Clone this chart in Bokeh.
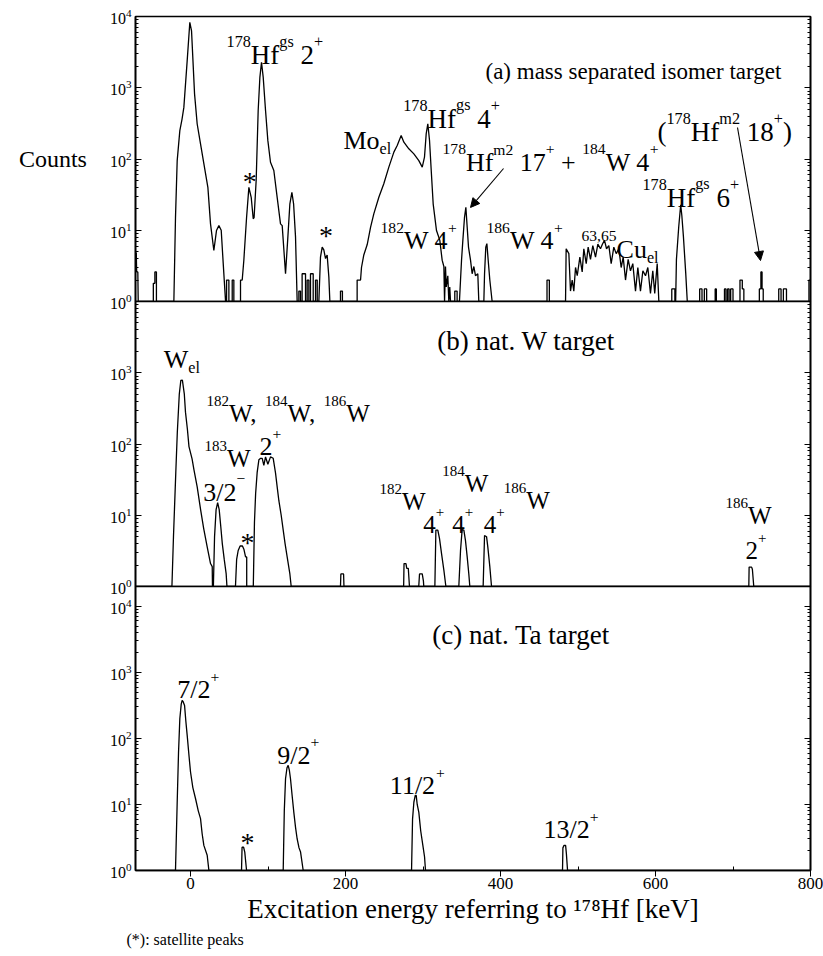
import re
from bokeh.plotting import figure
from bokeh.layouts import column
from bokeh.models import FixedTicker, LogAxis, Arrow, NormalHead, Title, ColumnDataSource, Range1d
from bokeh.core.properties import value
from bokeh.embed import file_html
from bokeh.resources import INLINE

FONT = "Liberation Serif"

# ---------------- data: panel (a) mass separated isomer target ----------------
a_energy = [
    -71, -70, -69.5, -68, -67.5,
    -48, -48, -46, -46, -44, -44,
    -21.5, -19.4, -17.2, -13.8, -11, -8.6, -4.3, -0.9, 1.3, 5.2, 8.6, 12.9, 17.2, 22.4, 25.8, 30.1, 33.5, 36.6, 39.6, 42.2, 45.2,
    46.5, 46.5, 49.5, 49.5, 53.8, 53.8, 55.9, 55.9,
    64.5, 64.5, 66.7, 68.8, 72.3, 75.3, 78.3, 80.9, 82, 84.7, 87.3, 89.5, 91.6, 93.8, 96.8, 99.8, 103.2, 107.5, 111.8, 116.1, 118.3, 122.6, 125.6, 128.2, 130.8, 133, 135.5, 137.6,
    139.8, 139.8, 141.9, 141.9, 144, 144, 148.4, 148.4, 150.5, 150.5, 152.7, 152.7, 154.8, 154.8, 158.3, 158.3, 161.3, 161.3, 163.5, 163.5,
    165.6, 167.7, 169.9, 172, 174.2, 176.3, 178.5, 179.8,
    193.5, 193.5, 196, 196,
    215, 215, 219.4, 220.6, 223.6, 228, 232.3, 236.5, 243, 249.4, 255.9, 262.4, 266.7, 271.8, 275.3, 281.7, 288.2, 294.6, 299, 301.9, 304.1, 306.2, 308.4, 310.6, 313.1, 317.4, 321.7, 324.7, 326.9, 327.8, 329, 330, 332, 333.3, 334.5, 335.5,
    341, 341, 344, 344,
    347, 348.4, 349.7, 351.4, 353.5, 355.3, 357, 358.7, 361.3, 363.4, 365.6, 367.7, 370.7, 372,
    378.5, 379.4, 381, 382.4, 384.1, 386.2, 389.2,
    460, 460, 463, 463,
    483.9, 484.7, 488.2, 490.3, 492.5, 494.6, 496.8, 499, 502.4, 505.4, 507.5, 510.6, 513.1, 516.1, 519.1, 522.6, 525.6, 529, 531.6, 534.2,
    536.8, 539.8, 542.8, 546.2, 549.3, 552.7, 555.7, 558.3, 561.3, 564.7, 567.7, 570.7, 574.2, 577.2, 580.6, 583.7, 587.1, 590.1, 593.5, 596.5,
    599, 602.2, 604.3,
    621, 621, 625, 625,
    626, 627, 630, 632.5, 634, 636, 639, 641,
    657, 657, 660, 660, 663, 663, 666, 666, 677, 677, 678.5, 678.5, 689, 689, 691, 691, 693, 693, 695, 695, 697, 697, 700, 700, 709, 709, 712, 712, 714, 714,
    734, 734, 736, 736, 737.5, 737.5, 739, 739,
    759, 759, 762, 762, 765, 765, 769, 769,
    798, 798, 800,
]
a_counts = [
    4.8, 4.8, 2.6, 2.6, 1,
    1, 1.8, 1.8, 2.6, 2.6, 1,
    1, 15, 95, 250, 360, 530, 2400, 8300, 6300, 820, 310, 163, 86, 40, 12.3, 5.2, 9.9, 11.6, 10, 3.4, 1,
    1, 2, 2, 1, 1, 2, 2, 1,
    1, 2, 2, 3.8, 15, 40, 29, 14.5, 15, 50, 480, 1400, 2280, 1400, 480, 181, 90, 69, 29, 12.3, 11.6, 2.45, 8, 23.5, 34, 23.5, 8, 1,
    1, 1.4, 1.4, 1, 1, 2.45, 2.45, 1, 1, 2, 2, 1, 1, 2.45, 2.45, 1, 1, 2, 2, 1,
    1, 4.2, 5.8, 5.3, 4, 4.5, 2.2, 1,
    1, 1.4, 1.4, 1,
    1, 2, 2, 3, 4.5, 6.3, 11, 17, 29, 45, 77, 125, 155, 214, 172, 139, 118, 95, 77, 106, 225, 312, 182, 69, 23.5, 9.9, 7.2, 3.8, 3.1, 1, 3.1, 1.6, 2.3, 1, 1.6, 1,
    1, 1.4, 1.4, 1,
    1, 2, 3.8, 7.2, 15, 21, 11, 5.8, 3.8, 2.45, 3.1, 2.3, 2.45, 1,
    1, 2.45, 5.8, 6.5, 3.8, 2, 1,
    1, 2, 2, 1,
    1, 5.5, 4.7, 1.4, 2, 1.4, 3, 2.3, 4.2, 2.6, 5.5, 3.4, 5.8, 3.9, 6.1, 4.2, 6.4, 5.5, 6.4, 7.2,
    5.5, 6.1, 3.4, 5.8, 4.7, 5.5, 3, 4.2, 2, 3.9, 2.7, 3.4, 1.4, 3, 1.4, 2.7, 2.3, 3, 1.3, 2.7,
    1.3, 3.4, 1,
    1, 1.5, 1.5, 1,
    1, 3.9, 11.3, 22.8, 16, 8.2, 2.5, 1,
    1, 1.5, 1.5, 1, 1, 1.5, 1.5, 1, 1, 1.5, 1.5, 1, 1, 1.5, 1.5, 1, 1, 1.5, 1.5, 1, 1, 1.5, 1.5, 1, 1, 2, 2, 1.5, 1.5, 1,
    1, 1.5, 1.5, 2.6, 2.6, 1.5, 1.5, 1,
    1, 1.5, 1.5, 1, 1, 1.5, 1.5, 1,
    1, 2, 2,
]

# ---------------- data: panel (b) nat. W target ----------------
b_energy = [
    -71, -24, -22, -19, -17, -14.5, -12.5, -10.5, -8, -6.5, -4, -2, 2, 4.5, 8.6, 13, 17, 21.5, 25.8, 28, 28.3,
    29.5, 31, 33, 35, 37, 39, 41, 43.5, 46, 47,
    58, 59.5, 61.5, 64, 67, 69, 71, 72.5, 72.5,
    81, 82.5, 84, 86, 88.2, 90.5, 92.5, 94.6, 96.8, 99.8, 103.2, 106.7, 109.7, 112, 114, 117, 119.6, 122, 124.7, 128.2, 129.9,
    193.5, 194, 197.5, 198,
    275, 275.5, 278, 279, 281, 282.5,
    294.5, 295.5, 299, 300.5, 301,
    315.3, 316.6, 319.1, 321.3, 323.9, 326.9, 329.5,
    346.2, 348.4, 350.5, 352.7, 354.8, 357, 359.1, 360.4,
    377.6, 379.4, 382, 383.6, 386.2, 388.4,
    720.4, 720.8, 724, 725, 726.8, 800,
]
b_counts = [
    1, 1, 5, 40, 150, 500, 780, 790, 500, 280, 160, 92, 62, 43, 25, 12, 6.5, 3.6, 2.1, 1.9, 1,
    1, 5, 12, 15, 12, 7, 4, 2.4, 1.5, 1,
    1, 2.4, 3.2, 3.7, 3.7, 3.3, 2.6, 2.6, 1,
    1, 8, 20, 40, 60, 63, 63, 50, 66, 52, 66, 63, 39, 24, 16, 10, 6.2, 4, 2.6, 1.5, 1,
    1, 1.5, 1.5, 1,
    1, 2.1, 2.1, 1.8, 1.8, 1,
    1, 1.5, 1.5, 1.2, 1,
    1, 6.2, 6.2, 4.7, 2.9, 1.7, 1,
    1, 3.2, 6.3, 6.2, 4.4, 2.6, 1.5, 1,
    1, 5.2, 5, 3.6, 1.9, 1,
    1, 1.87, 1.87, 1.75, 1, 1,
]

# ---------------- data: panel (c) nat. Ta target ----------------
c_energy = [
    -71, -19.4, -17.2, -15.5, -13.8, -12, -10.8, -9.5, -7.7, -6, -4.3, -2, 0, 3, 6.5, 10, 12.9, 15, 17.2, 21.5, 23.7,
    65.8, 66.5, 68.5, 70, 72.3,
    119.6, 121, 122.6, 124.5, 126, 127.5, 129, 131, 133.3, 135.5, 137.6, 140, 142, 145.4,
    285.2, 286.5, 288.2, 290, 291.2, 292.5, 294.6, 297, 299.8, 302, 303.2,
    480, 480.5, 482, 484, 485, 486.5, 800,
]
c_counts = [
    1, 1, 10.8, 60, 198, 330, 377, 360, 316, 180, 111, 55, 31, 18, 12.2, 8, 6.1, 3.6, 2.4, 1.7, 1,
    1, 2.25, 2.25, 1.9, 1,
    1, 8, 24.5, 36, 39, 33, 24.5, 14, 7.6, 4.5, 3, 2.2, 1.9, 1,
    1, 6, 10.8, 13.7, 13.7, 10, 7.6, 4, 2.4, 1.6, 1,
    1, 2.2, 2.4, 2.4, 1.8, 1, 1,
]

# ---------------- annotations (markup: ^{sup}, _{sub}) ----------------
a_label_text = ["^{178}Hf^{gs} 2^{+}", "*", "*", "Mo_{el}", "^{178}Hf^{gs} 4^{+}",
                "^{178}Hf^{m2} 17^{+} + ^{184}W 4^{+}", "^{182}W 4^{+}", "^{186}W 4^{+}",
                "^{63,65}Cu_{el}", "^{178}Hf^{gs} 6^{+}", "(^{178}Hf^{m2} 18^{+})",
                "(a) mass separated isomer target"]
a_label_x = [46.5, 67.5, 165.8, 197.4, 274.5, 325.2, 245.2, 381.9, 504.5, 583.2, 602.6, 380.6]
a_label_y = [2837, 48.0, 8.5, 182, 367, 90.2, 7.18, 7.18, 5.37, 28.8, 238, 1690]
a_label_size = [27, 28, 28, 26, 27, 26, 26, 26, 26, 27, 27, 23]

a_arrow_x0 = [403.9, 705.8]
a_arrow_y0 = [73.6, 277]
a_arrow_x1 = [361.3, 735.5]
a_arrow_y1 = [20.9, 3.76]

b_label_text = ["W_{el}", "^{182}W, ^{184}W, ^{186}W", "^{183}W", "2^{+}", "3/2^{−}", "*",
                "^{182}W", "4^{+}", "^{184}W", "4^{+}", "^{186}W", "4^{+}", "^{186}W", "2^{+}",
                "(b) nat. W target"]
b_label_x = [-34.5, 20.6, 18.1, 89.0, 16.4, 64.5, 243.9, 300.3, 324.8, 337.7, 404.3, 378.5, 690.3, 716.1, 318.3]
b_label_y = [1524, 265, 63.5, 92.2, 21.1, 4.2, 15.4, 7.47, 27.9, 7.47, 16.3, 7.47, 10.0, 3.21, 2760]
b_label_size = [26, 25, 25, 26, 26, 28, 25, 25, 25, 25, 25, 25, 25, 25, 27]

c_label_text = ["(c) nat. Ta target", "7/2^{+}", "*", "9/2^{+}", "11/2^{+}", "13/2^{+}"]
c_label_x = [311.9, -17.2, 64.5, 111.9, 257.2, 455.5]
c_label_y = [3715, 550, 2.7, 55.6, 19.1, 4.15]
c_label_size = [27, 26, 28, 26, 26, 26]

y_major = [1, 10, 100, 1000, 10000]
y_minor = [m * d for d in [1, 10, 100, 1000, 10000] for m in range(2, 10)]
x_major = [0, 200, 400, 600, 800]
x_minor = [100, 300, 500, 700]

# ---------------- helpers ----------------
WIDTHS = {' ': 0.25, '+': 0.564, '−': 0.564, ',': 0.25, '/': 0.278, '(': 0.333, ')': 0.333,
          '*': 0.5, '.': 0.25, 'H': 0.722, 'f': 0.333, 'W': 0.944, 'M': 0.889, 'o': 0.5,
          'C': 0.667, 'u': 0.5, 'e': 0.444, 'l': 0.278, 'g': 0.5, 's': 0.389, 'm': 0.778,
          'T': 0.611, 'a': 0.444, 't': 0.278, 'n': 0.5, 'r': 0.333, 'i': 0.278, 'p': 0.5,
          'd': 0.5, 'b': 0.5, 'c': 0.444}


def tw(s, size):
    return sum(WIDTHS.get(ch, 0.5) for ch in s) * size


TOKEN = re.compile(r"\^\{([^}]*)\}|_\{([^}]*)\}|([^\^_]+)")


def rich_source(texts, xs, ys, sizes):
    rows = dict(x=[], y=[], text=[], xo=[], yo=[], fs=[])
    for t, x, y, s in zip(texts, xs, ys, sizes):
        cur = 0.0
        for sup, sub, normal in TOKEN.findall(t):
            if sup:
                seg, fs, yo = sup, 0.6 * s, -0.5 * s
            elif sub:
                seg, fs, yo = sub, 0.62 * s, 0.3 * s
            else:
                seg, fs, yo = normal, s, 0.0
            lead = len(seg) - len(seg.lstrip(' '))
            trail = len(seg) - len(seg.rstrip(' '))
            core = seg.strip(' ')
            cur += lead * 0.25 * fs
            if core:
                rows["x"].append(x)
                rows["y"].append(y)
                rows["text"].append(core)
                rows["xo"].append(cur)
                rows["yo"].append(yo)
                rows["fs"].append(f"{fs:.1f}px")
                cur += tw(core, fs)
            cur += trail * 0.25 * fs
    return ColumnDataSource(rows)


def make_panel(y_end, height, top, bottom, show_x, y_ticks):
    p = figure(width=823, height=height, x_range=Range1d(-71, 800), y_range=Range1d(1, y_end),
               y_axis_type="log", x_axis_location="below" if show_x else None,
               output_backend="svg", toolbar_location=None,
               min_border_left=135, min_border_right=13, min_border_top=top, min_border_bottom=bottom)
    p.grid.visible = False
    p.background_fill_color = "white"
    p.border_fill_alpha = 0
    p.outline_line_color = "black"
    p.outline_line_width = 1.6
    p.outline_line_alpha = 1
    ax = p.yaxis[0]
    ax.ticker = FixedTicker(ticks=y_ticks, minor_ticks=y_minor)
    ax.major_tick_in = 6
    ax.major_tick_out = 0
    ax.minor_tick_in = 3
    ax.minor_tick_out = 0
    ax.axis_line_width = 1.6
    ax.major_label_text_font = FONT
    ax.major_label_text_font_size = "16px"
    ax.major_label_text_color = "black"
    ax.major_label_standoff = 4
    rax = LogAxis(ticker=FixedTicker(ticks=y_major, minor_ticks=y_minor),
                  major_tick_in=6, major_tick_out=0, minor_tick_in=3, minor_tick_out=0,
                  major_label_text_font_size="1px", major_label_text_alpha=0,
                  major_label_standoff=0, axis_line_width=1.6)
    p.add_layout(rax, "right")
    return p


def draw(p, energy, counts, texts, xs, ys, sizes):
    p.line(energy, counts, line_color="black", line_width=1.3)
    src = rich_source(texts, xs, ys, sizes)
    p.text(x="x", y="y", text="text", x_offset="xo", y_offset="yo", text_font_size="fs",
           text_font=value(FONT), text_baseline="alphabetic", text_align="left",
           text_color="black", source=src)


# ---------------- panel (a) ----------------
pa = make_panel(10000, 314, 16, 13, False, y_major)
pa.border_fill_alpha = 1
draw(pa, a_energy, a_counts, a_label_text, a_label_x, a_label_y, a_label_size)
for x0, y0, x1, y1 in zip(a_arrow_x0, a_arrow_y0, a_arrow_x1, a_arrow_y1):
    pa.add_layout(Arrow(x_start=x0, y_start=y0, x_end=x1, y_end=y1, line_width=1.1,
                        end=NormalHead(size=9, fill_color="black", line_color="black", line_width=1)))
ya = pa.yaxis[0]
ya.axis_label = "Counts"
ya.axis_label_text_font = FONT
ya.axis_label_text_font_size = "24px"
ya.axis_label_text_font_style = "normal"
ya.axis_label_text_color = "black"
ya.axis_label_standoff = 20
if "axis_label_orientation" in ya.properties():
    ya.axis_label_orientation = "horizontal"

# ---------------- panel (b) ----------------
pb = make_panel(10000, 307, 9, 13, False, y_major[:-1])
draw(pb, b_energy, b_counts, b_label_text, b_label_x, b_label_y, b_label_size)
pb.styles = {"margin-top": "-22px"}

# ---------------- panel (c) ----------------
pc = make_panel(10 ** 4.3, 375, 9, 82, True, y_major)
draw(pc, c_energy, c_counts, c_label_text, c_label_x, c_label_y, c_label_size)
xa = pc.xaxis[0]
xa.ticker = FixedTicker(ticks=x_major, minor_ticks=x_minor)
xa.major_tick_in = 0
xa.major_tick_out = 6
xa.minor_tick_in = 4
xa.minor_tick_out = 0
xa.axis_line_width = 1.6
xa.major_label_text_font = FONT
xa.major_label_text_font_size = "17px"
xa.major_label_text_color = "black"
xa.major_label_standoff = 1
xa.axis_label = "Excitation energy referring to ¹⁷⁸Hf [keV]"
xa.axis_label_text_font = FONT
xa.axis_label_text_font_size = "27px"
xa.axis_label_text_font_style = "normal"
xa.axis_label_text_color = "black"
xa.axis_label_standoff = 2
pc.add_layout(Title(text="(*): satellite peaks", align="left", offset=-9, standoff=4,
                    text_font=FONT, text_font_size="16px", text_font_style="normal",
                    text_color="black"), "below")
pc.styles = {"margin-top": "-22px"}

layout = column(pa, pb, pc, spacing=0)
open("out.html", "w").write(file_html(layout, INLINE))
